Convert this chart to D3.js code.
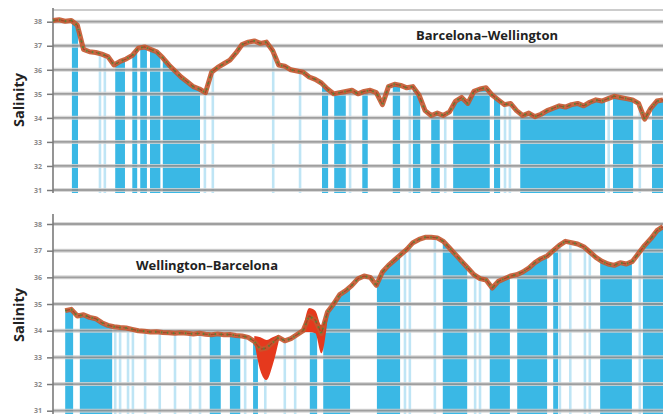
<!DOCTYPE html>
<html>
<head>
<meta charset="utf-8">
<script src="https://cdn.jsdelivr.net/npm/d3@7"></script>
<style>
  body { margin: 0; background: #fff; }
  svg { display: block; }
</style>
</head>
<body>
<script>
// Distance along each leg, percent of route (one sample per percent).
const distance = d3.range(0, 101);

// Sea-surface salinity, Barcelona -> Wellington
const outboundSalinity = [
  38.05, 38.08, 38.02, 38.05, 37.85, 36.85, 36.75, 36.72, 36.65, 36.55,
  36.20, 36.35, 36.45, 36.60, 36.90, 36.95, 36.85, 36.75, 36.50, 36.20,
  35.95, 35.70, 35.50, 35.30, 35.20, 35.05, 35.90, 36.10, 36.25, 36.40,
  36.70, 37.05, 37.15, 37.20, 37.10, 37.15, 36.80, 36.20, 36.15, 36.00,
  35.95, 35.90, 35.70, 35.60, 35.45, 35.20, 35.00, 35.05, 35.10, 35.15,
  35.00, 35.10, 35.15, 35.05, 34.55, 35.30, 35.40, 35.35, 35.25, 35.30,
  34.95, 34.30, 34.10, 34.20, 34.10, 34.25, 34.70, 34.85, 34.60, 35.10,
  35.20, 35.25, 34.95, 34.75, 34.55, 34.60, 34.30, 34.10, 34.20, 34.05,
  34.15, 34.30, 34.40, 34.50, 34.45, 34.55, 34.60, 34.50, 34.65, 34.75,
  34.70, 34.80, 34.90, 34.85, 34.80, 34.75, 34.60, 33.95, 34.40, 34.70,
  34.75
];

// Sea-surface salinity, Wellington -> Barcelona
const returnSalinity = [
  null, null, 34.75, 34.80, 34.55, 34.60, 34.50, 34.45, 34.30, 34.20,
  34.15, 34.12, 34.10, 34.05, 34.00, 33.98, 33.95, 33.96, 33.93, 33.92,
  33.90, 33.92, 33.90, 33.88, 33.90, 33.87, 33.85, 33.88, 33.85, 33.86,
  33.82, 33.80, 33.75, 33.60, 33.30, 33.35, 33.55, 33.75, 33.62, 33.70,
  33.85, 34.00, 34.55, 34.40, 33.90, 34.70, 35.00, 35.35, 35.50, 35.70,
  35.95, 36.05, 36.00, 35.70, 36.20, 36.45, 36.65, 36.85, 37.05, 37.30,
  37.42, 37.50, 37.50, 37.48, 37.35, 37.10, 36.85, 36.60, 36.35, 36.10,
  35.95, 35.90, 35.60, 35.85, 35.95, 36.05, 36.10, 36.20, 36.35, 36.55,
  36.70, 36.80, 37.00, 37.20, 37.35, 37.30, 37.25, 37.15, 36.95, 36.75,
  36.60, 36.50, 36.45, 36.55, 36.50, 36.60, 36.90, 37.20, 37.45, 37.75,
  37.90
];

// Fresh-water excursions recorded on the return leg (min / max around the mean)
const returnLowDist = [33, 34, 35, 36, 37, 41, 42, 43, 44, 45];
const returnLowMin  = [33.60, 32.50, 32.15, 32.70, 33.60, 33.95, 33.95, 33.90, 33.15, 34.40];
const returnLowMax  = [33.80, 33.75, 33.65, 33.75, 33.85, 34.05, 34.85, 34.75, 34.20, 34.75];

// Stretches with continuous sampling (distance ranges)
const outboundSampled = [
  [3.1, 4.1], [10.2, 11.8], [13.0, 13.8], [14.3, 15.4], [15.9, 17.6], [18.0, 24.1],
  [44.1, 45.1], [46.1, 48.0], [50.7, 51.6], [55.7, 56.9], [59.0, 60.2], [62.0, 63.4],
  [65.6, 71.6], [72.3, 73.3], [76.6, 90.5], [91.8, 95.1], [98.2, 100]
];
const returnSampled = [
  [2.0, 3.3], [4.4, 9.7], [25.7, 27.5], [29.0, 30.7], [32.8, 33.6], [42.1, 43.3],
  [44.3, 48.7], [53.1, 56.9], [63.9, 67.9], [71.6, 74.9], [76.1, 81.0], [82.0, 82.8],
  [89.7, 94.9], [96.7, 100]
];

// Isolated samples
const outboundSpot = [7.7, 8.5, 24.9, 26.2, 36.1, 40.5, 48.7, 58.5, 64.3, 74.1, 74.9, 91.1, 96.2];
const returnSpot = [10.2, 11.0, 12.3, 13.1, 15.1, 17.5, 20.0, 22.5, 24.1, 31.5, 34.8, 38.0,
  39.7, 57.7, 58.5, 62.6, 69.2, 70.0, 83.1, 84.8, 87.2, 88.0, 96.2];

const salinityTicks = [31, 32, 33, 34, 35, 36, 37, 38];

const W = 663, H = 414;
const svg = d3.select("body").append("svg").attr("width", W).attr("height", H);

const C = {
  grid: "#8f8f8f", gridHalo: "#d2d2d2", axis: "#7a7a7a",
  blue: "#3ab8e5", paleBlue: "#bfe5f5",
  line: "#c4562e", dark: "#9c3f24", green: "#4f8a3a", red: "#e5391d", text: "#222"
};

function valueAt(series, d) {
  const i = Math.max(0, Math.min(99, Math.floor(d)));
  const a = series[i], b = series[i + 1];
  if (a == null) return b;
  if (b == null) return a;
  const t = d - i;
  return a + (b - a) * t;
}

function drawPanel(opt) {
  const x = d3.scaleLinear().domain([0, 100]).range([53, 663]);
  const y = d3.scaleLinear().domain([31, 38]).range([opt.bottom, opt.top]);
  const g = svg.append("g");
  const series = opt.series;

  // Sampled stretches, filled from the trace down
  const area = d3.area()
    .x(p => x(p[0]))
    .y0(opt.floor)
    .y1(p => y(p[1]) + 1.5);
  opt.sampled.forEach(([a, b]) => {
    const pts = [[a, valueAt(series, a)]];
    distance.filter(d => d > a && d < b).forEach(d => pts.push([d, valueAt(series, d)]));
    pts.push([b, valueAt(series, b)]);
    g.append("path").attr("d", area(pts)).attr("fill", C.blue);
  });

  opt.spots.forEach(d => {
    g.append("rect")
      .attr("x", x(d) - 1.3).attr("width", 2.6)
      .attr("y", y(valueAt(series, d)) + 2)
      .attr("height", opt.floor - y(valueAt(series, d)) - 2)
      .attr("fill", C.paleBlue);
  });

  // Axis with gridlines
  const axis = d3.axisLeft(y).tickValues(salinityTicks).tickFormat(d3.format("d"))
    .tickSize(6).tickPadding(5);
  const ag = g.append("g").attr("transform", "translate(53,0)").call(axis);
  ag.select(".domain").remove();
  ag.selectAll(".tick line").attr("stroke", C.axis).attr("stroke-width", 1.5);
  ag.selectAll(".tick text")
    .attr("fill", "#8a8a8a").attr("font-size", 7).attr("font-weight", 700)
    .attr("font-family", "Open Sans, sans-serif");

  const grid = g.append("g").attr("opacity", 0.85);
  salinityTicks.forEach(t => {
    grid.append("line").attr("x1", 53).attr("x2", W).attr("y1", y(t)).attr("y2", y(t))
      .attr("stroke", C.gridHalo).attr("stroke-width", 4);
    grid.append("line").attr("x1", 53).attr("x2", W).attr("y1", y(t)).attr("y2", y(t))
      .attr("stroke", C.grid).attr("stroke-width", 1.8);
  });
  if (opt.frameTop != null) {
    grid.append("line").attr("x1", 53).attr("x2", W).attr("y1", opt.frameTop).attr("y2", opt.frameTop)
      .attr("stroke", "#c4c4c4").attr("stroke-width", 2);
  }
  g.append("line").attr("x1", 53).attr("x2", 53)
    .attr("y1", opt.axisTop).attr("y2", opt.floor)
    .attr("stroke", C.axis).attr("stroke-width", 1.6);

  // Low-salinity excursions
  if (opt.low) {
    const groups = [];
    opt.low.dist.forEach((d, i) => {
      const p = [d, opt.low.min[i], opt.low.max[i]];
      if (!groups.length || d - groups[groups.length - 1].slice(-1)[0][0] > 1.5) groups.push([p]);
      else groups[groups.length - 1].push(p);
    });
    const lowArea = d3.area().x(p => x(p[0])).y0(p => y(p[1])).y1(p => y(p[2]))
      .curve(d3.curveMonotoneX);
    groups.forEach(gr => g.append("path").attr("d", lowArea(gr)).attr("fill", C.red));
  }

  // Salinity trace: broad band, darker core, green sample markers
  const line = d3.line()
    .defined(d => series[d] != null)
    .x(d => x(d)).y(d => y(series[d]));
  g.append("path").attr("d", line(distance))
    .attr("fill", "none").attr("stroke", C.line).attr("stroke-width", 5)
    .attr("stroke-linejoin", "round").attr("opacity", 0.9);
  g.append("path").attr("d", line(distance))
    .attr("fill", "none").attr("stroke", C.dark).attr("stroke-width", 1.2)
    .attr("stroke-dasharray", "5,3").attr("opacity", 0.8);
  g.append("path").attr("d", line(distance))
    .attr("fill", "none").attr("stroke", C.green).attr("stroke-width", 2)
    .attr("stroke-dasharray", "1.5,4.5").attr("opacity", 0.9);

  // Labels
  g.append("text")
    .attr("transform", `translate(${opt.labelX},${opt.labelY}) rotate(-90)`)
    .attr("text-anchor", "middle")
    .attr("font-family", "Open Sans, sans-serif").attr("font-weight", 700)
    .attr("font-size", 14.5).attr("fill", C.text)
    .text("Salinity");
  g.append("text")
    .attr("x", opt.titleX).attr("y", opt.titleY)
    .attr("text-anchor", "middle")
    .attr("font-family", "Open Sans, sans-serif").attr("font-weight", 700)
    .attr("font-size", 13).attr("fill", C.text)
    .text(opt.title);
}

drawPanel({
  series: outboundSalinity, sampled: outboundSampled, spots: outboundSpot,
  top: 21.7, bottom: 190, floor: 193, axisTop: 8, frameTop: 10,
  labelX: 24, labelY: 100, title: "Barcelona–Wellington", titleX: 487, titleY: 40
});

drawPanel({
  series: returnSalinity, sampled: returnSampled, spots: returnSpot,
  top: 224, bottom: 410.7, floor: 416, axisTop: 214, frameTop: null,
  low: { dist: returnLowDist, min: returnLowMin, max: returnLowMax },
  labelX: 24, labelY: 315, title: "Wellington–Barcelona", titleX: 207, titleY: 270
});
</script>
</body>
</html>
